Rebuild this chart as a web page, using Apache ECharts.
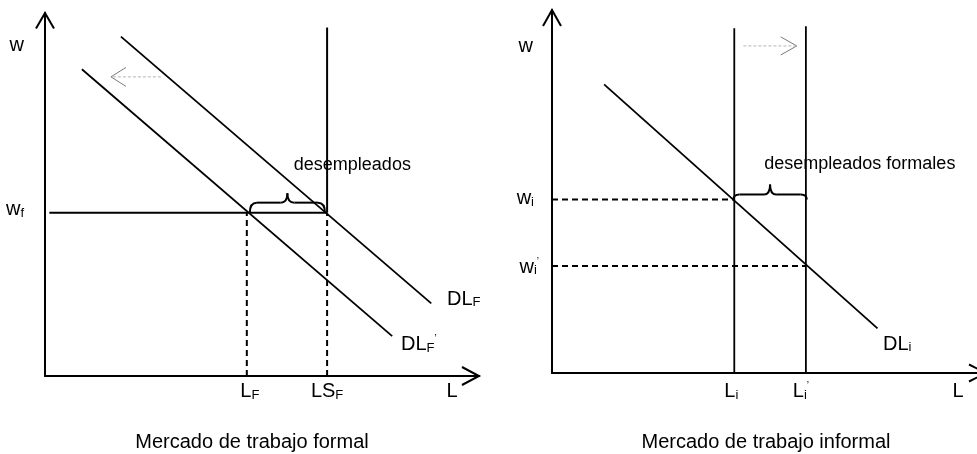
<!DOCTYPE html>
<html>
<head>
<meta charset="utf-8">
<script src="https://cdn.jsdelivr.net/npm/echarts@6/dist/echarts.min.js"></script>
<style>
  html, body { margin: 0; padding: 0; background: #fff; }
  #chart { width: 977px; height: 454px; }
</style>
</head>
<body>
<div id="chart"></div>
<script>
// mercado formal
var wF = 45;
var LF = 46.5;
var LSF = 65;
var LSTop = 96;
var DLF = [[17.5, 93.5], [89, 20]];
var DLF2 = [[8.5, 84.5], [80, 11]];
var shiftF = [[26.7, 82.4], [15.2, 82.4]];
var braceF = [47.2, 64.5, 45];

// mercado informal
var wI = 47.8;
var wI2 = 29.5;
var LI = 42;
var LI2 = 58.5;
var LITop = [95, 95.5];
var DLI = [[12, 79.5], [75, 12.3]];
var shiftI = [[44.1, 90.1], [56.4, 90.1]];
var braceI = [41.8, 58.7, 47.8];

var titles = ['Mercado de trabajo formal', 'Mercado de trabajo informal'];

var FONT = 'Liberation Sans';
var rich = {
  s: { fontSize: 13, fontFamily: FONT, color: '#000', verticalAlign: 'bottom' },
  p: { fontSize: 10, fontFamily: FONT, color: '#000', verticalAlign: 'top' }
};

function seg(g, pts, width, type, color) {
  return {
    type: 'line', xAxisIndex: g, yAxisIndex: g, data: pts,
    symbol: 'none', silent: true, clip: false,
    lineStyle: { color: color || '#000', width: width, type: type || 'solid' }
  };
}

function chevron(g, tip, a1, a2, width, color) {
  return {
    type: 'custom', xAxisIndex: g, yAxisIndex: g, data: [tip], silent: true, clip: false,
    encode: { x: 0, y: 1 },
    renderItem: function (params, api) {
      var p = api.coord([api.value(0), api.value(1)]);
      return {
        type: 'polyline',
        shape: { points: [[p[0] + a1[0], p[1] + a1[1]], p, [p[0] + a2[0], p[1] + a2[1]]] },
        style: { stroke: color, lineWidth: width, fill: 'none' }
      };
    }
  };
}

function brace(g, b, h, m, r) {
  return {
    type: 'custom', xAxisIndex: g, yAxisIndex: g, data: [b], silent: true, clip: false,
    encode: { x: [0, 1], y: 2 },
    renderItem: function (params, api) {
      var p1 = api.coord([api.value(0), api.value(2)]);
      var p2 = api.coord([api.value(1), api.value(2)]);
      var y = p1[1], x1 = p1[0], x2 = p2[0], xm = (x1 + x2) / 2;
      var st = { stroke: '#000', lineWidth: 2, fill: 'none' };
      function q(ax, ay, cx, cy, bx, by) {
        return { type: 'bezierCurve', shape: { x1: ax, y1: ay, cpx1: cx, cpy1: cy, x2: bx, y2: by }, style: st };
      }
      function l(ax, ay, bx, by) {
        return { type: 'line', shape: { x1: ax, y1: ay, x2: bx, y2: by }, style: st };
      }
      return {
        type: 'group',
        children: [
          q(x1, y, x1, y - m, x1 + r, y - m),
          l(x1 + r, y - m, xm - r, y - m),
          q(xm - r, y - m, xm, y - m, xm, y - h),
          q(xm, y - h, xm, y - m, xm + r, y - m),
          l(xm + r, y - m, x2 - r, y - m),
          q(x2 - r, y - m, x2, y - m, x2, y)
        ]
      };
    }
  };
}

// texto: un custom series, asi el color no depende del simbolo
function labels(g, items) {
  return {
    type: 'custom', xAxisIndex: g, yAxisIndex: g, silent: true, clip: false,
    encode: { x: 0, y: 1 },
    data: items.map(function (it) { return it.at; }),
    renderItem: function (params, api) {
      var it = items[params.dataIndex];
      var p = api.coord([api.value(0), api.value(1)]);
      return {
        type: 'text',
        x: p[0] + it.off[0],
        y: p[1] + it.off[1],
        style: {
          text: it.t, rich: rich, fill: '#000',
          fontFamily: FONT, fontSize: it.size || 20,
          align: it.align || 'center', verticalAlign: 'middle'
        }
      };
    }
  };
}

function arrow(g, pts, head) {
  return [
    seg(g, pts, 1, [3, 2], '#b4b4b4'),
    chevron(g, pts[1], head[0], head[1], 1, '#7a7a7a')
  ];
}

var series = [].concat(
  // izquierda
  seg(0, [[LSF, wF], [LSF, LSTop]], 2),
  seg(0, [[LSF, 0], [LSF, wF]], 2, [6, 4]),
  seg(0, [[LF, 0], [LF, wF]], 2, [6, 4]),
  seg(0, [[1, wF], [LSF, wF]], 2),
  seg(0, DLF, 1.8),
  seg(0, DLF2, 1.8),
  arrow(0, shiftF, [[15, -9.5], [15, 9.5]]),
  brace(0, braceF, 19.5, 10, 7),
  chevron(0, [0, 100], [-9, 15.5], [9, 15.5], 2, '#000'),
  chevron(0, [100, 0], [-17, -9], [-17, 9], 2, '#000'),
  labels(0, [
    { t: 'w', at: [0, 91], align: 'right', off: [-21, 0] },
    { t: 'w{s|f}', at: [0, wF], align: 'right', off: [-21, -3] },
    { t: 'L{s|F}', at: [LF, 0], off: [3, 15.5] },
    { t: 'LS{s|F}', at: [LSF, 0], off: [0, 15.5] },
    { t: 'L', at: [100, 0], off: [-27, 15.5] },
    { t: 'DL{s|F}', at: DLF[1], align: 'left', off: [15.7, -4] },
    { t: 'DL{s|F}{p|’}', at: DLF2[1], align: 'left', off: [8.8, 8.4] },
    { t: 'desempleados', at: [LF, wF], align: 'left', off: [47, -48], size: 18 }
  ]),
  // derecha
  seg(1, [[LI, 0], [LI, LITop[0]]], 1.8),
  seg(1, [[LI2, 0], [LI2, LITop[1]]], 1.8),
  seg(1, [[0, wI], [LI, wI]], 2, [6, 4]),
  seg(1, [[0, wI2], [LI2, wI2]], 2, [6, 4]),
  seg(1, DLI, 1.8),
  arrow(1, shiftI, [[-16, -9], [-16, 9]]),
  brace(1, braceI, 15, 5, 6),
  chevron(1, [0, 100], [-9, 16], [9, 16], 2, '#000'),
  chevron(1, [100, 0], [-17, -8.5], [-17, 8.5], 2, '#000'),
  labels(1, [
    { t: 'w', at: [0, 90], align: 'right', off: [-19, 0] },
    { t: 'w{s|i}', at: [0, wI], align: 'right', off: [-18, -1] },
    { t: 'w{s|i}{p|’}', at: [0, wI2], align: 'right', off: [-13, 1.4] },
    { t: 'L{s|i}', at: [LI, 0], off: [-3, 18.5] },
    { t: 'L{s|i}{p|’}', at: [LI2, 0], off: [-5, 18.5] },
    { t: 'L', at: [100, 0], off: [-28, 18.5] },
    { t: 'DL{s|i}', at: DLI[1], align: 'left', off: [5.5, 16] },
    { t: 'desempleados formales', at: [LI, wI], align: 'left', off: [30, -35], size: 18 }
  ])
);

function axis(i) {
  return {
    type: 'value', gridIndex: i, min: 0, max: 100,
    axisLine: { show: true, onZero: false, lineStyle: { color: '#000', width: 2 } },
    axisTick: { show: false }, axisLabel: { show: false }, splitLine: { show: false }
  };
}

var option = {
  animation: false,
  backgroundColor: '#fff',
  title: [
    { text: titles[0], left: 252, top: 432, padding: 0, textAlign: 'center',
      textStyle: { fontFamily: FONT, fontSize: 20, fontWeight: 'normal', color: '#000' } },
    { text: titles[1], left: 766, top: 432, padding: 0, textAlign: 'center',
      textStyle: { fontFamily: FONT, fontSize: 20, fontWeight: 'normal', color: '#000' } }
  ],
  grid: [
    { left: 45, top: 13, width: 434, height: 363, outerBoundsMode: 'none' },
    { left: 552, top: 10, width: 434, height: 363, outerBoundsMode: 'none' }
  ],
  xAxis: [axis(0), axis(1)],
  yAxis: [axis(0), axis(1)],
  series: series
};

var myChart = echarts.init(document.getElementById('chart'));
myChart.setOption(option);
</script>
</body>
</html>
